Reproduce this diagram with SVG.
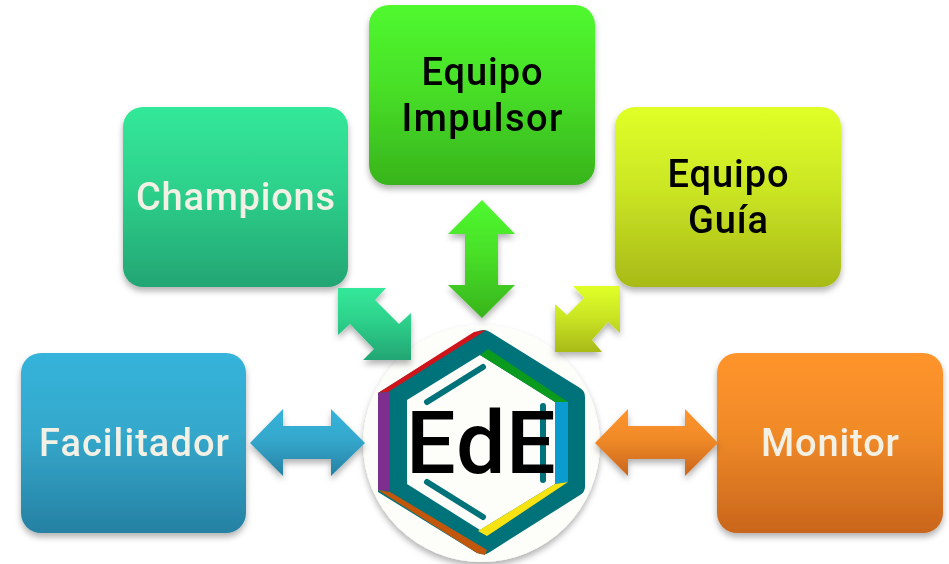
<svg xmlns="http://www.w3.org/2000/svg" width="949" height="564" viewBox="0 0 949 564">
<style>
text{font-family:"Roboto","Liberation Sans",sans-serif;font-size:38px;font-weight:500;text-anchor:middle}
.l{fill:#f3f0e6}.d{fill:#000}
.e{font-size:88px;text-anchor:start}
.bar{fill:none;stroke:#00727a;stroke-width:6;stroke-linecap:round}
</style>
<defs>
<filter id="s" x="-15%" y="-15%" width="130%" height="135%"><feDropShadow dx="0" dy="4" stdDeviation="3" flood-color="#000" flood-opacity=".3"/></filter>
<linearGradient id="b" x1="0" y1="0" x2="0" y2="1"><stop offset="0" stop-color="#36b3da"/><stop offset=".45" stop-color="#34a8cc"/><stop offset="1" stop-color="#2681a3"/></linearGradient>
<linearGradient id="t" x1="0" y1="0" x2="0" y2="1"><stop offset="0" stop-color="#33e899"/><stop offset=".45" stop-color="#2dd18b"/><stop offset="1" stop-color="#23a574"/></linearGradient>
<linearGradient id="g" x1="0" y1="0" x2="0" y2="1"><stop offset="0" stop-color="#50f92f"/><stop offset=".45" stop-color="#48e028"/><stop offset="1" stop-color="#38b41c"/></linearGradient>
<linearGradient id="y" x1="0" y1="0" x2="0" y2="1"><stop offset="0" stop-color="#e0ff28"/><stop offset=".45" stop-color="#cbe624"/><stop offset="1" stop-color="#a8ba18"/></linearGradient>
<linearGradient id="o" x1="0" y1="0" x2="0" y2="1"><stop offset="0" stop-color="#ff942b"/><stop offset=".45" stop-color="#f08a28"/><stop offset="1" stop-color="#c9651c"/></linearGradient>
</defs>
<g id="facilitador" filter="url(#s)"><rect x="21" y="353" width="225" height="180" rx="20" fill="url(#b)"/><text class="l" x="134" y="456" textLength="190">Facilitador</text></g>
<g id="champions" filter="url(#s)"><rect x="123" y="107" width="225" height="180" rx="20" fill="url(#t)"/><text class="l" x="235.500" y="210" textLength="199">Champions</text></g>
<g id="impulsor" filter="url(#s)"><rect x="369" y="5" width="226" height="180" rx="20" fill="url(#g)"/><text class="d" x="482" y="85" textLength="121">Equipo</text><text class="d" x="482" y="131" textLength="161">Impulsor</text></g>
<g id="guia" filter="url(#s)"><rect x="615" y="107" width="226" height="180" rx="20" fill="url(#y)"/><text class="d" x="728" y="187" textLength="121">Equipo</text><text class="d" x="728" y="233" textLength="80">Guía</text></g>
<g id="monitor" filter="url(#s)"><rect x="717" y="353" width="226" height="180" rx="20" fill="url(#o)"/><text class="l" x="830" y="456" textLength="138">Monitor</text></g>
<g id="ede">
<circle cx="481.500" cy="443.500" r="118.500" fill="#fdfdf9" filter="url(#s)"/>
<path fill="#00727a" fill-rule="evenodd" d="M378,393L476,332Q484,328 490,332L580,388Q585,391 585,397V487Q585,492 580,495L490,552Q485,556 477,553L378,492ZM480,355L407,400V484L480,530L555,484V402Z"/>
<polygon fill="#d0141c" points="378,393 474,332 486,330 480,334 388,392"/>
<polygon fill="#7d2e8e" points="378,393 390,392 390,491 378,490"/>
<polygon fill="#c2570c" points="378,490 390,492 487,550 485,555 477,553"/>
<polygon fill="#0a9a1e" points="480,355 488,349 568,402 555,402"/>
<polygon fill="#0a9ccf" points="555,402 568,402 568,482 555,484"/>
<polygon fill="#f8e312" points="478,531 487,536 568,482 555,484"/>
<path class="bar" d="M427,402L483,367M427,482L483,517M543,406V480"/>
<text class="e" x="406 456 506" y="473">EdE</text>
</g>
<g id="connectors" filter="url(#s)">
<polygon id="c-facilitador" fill="url(#b)" points="250,443 283,409 283,426 331,426 331,409 365,443 331,476 331,459 283,459 283,476"/>
<polygon id="c-champions" fill="url(#t)" points="338,288 386,288 375,300 399,324 411,313 411,360 363,360 374,349 350,324 338,335"/>
<polygon id="c-impulsor" fill="url(#g)" points="482,200 515,234 498,234 498,285 515,285 482,318 448,285 465,285 465,234 448,234"/>
<polygon id="c-guia" fill="url(#y)" points="620,286 573,286 584,298 567,315 555,304 555,352 602,352 592,340 608,322 620,333"/>
<polygon id="c-monitor" fill="url(#o)" points="595,443 628,409 628,426 685,426 685,409 718,443 685,476 685,459 628,459 628,476"/>
</g>
</svg>
